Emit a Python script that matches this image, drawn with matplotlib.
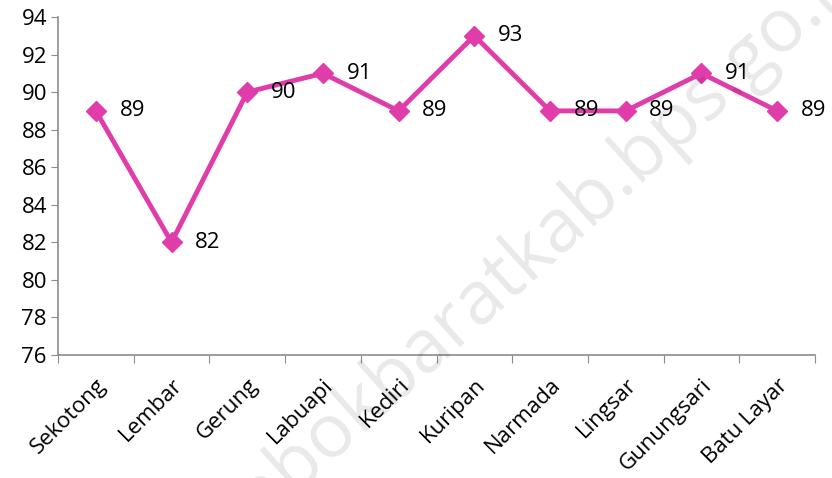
import matplotlib.pyplot as plt

kecamatan = ['Sekotong', 'Lembar', 'Gerung', 'Labuapi', 'Kediri', 'Kuripan',
             'Narmada', 'Lingsar', 'Gunungsari', 'Batu Layar']
nilai = [89, 82, 90, 91, 89, 93, 89, 89, 91, 89]
y_ticks = list(range(76, 95, 2))

plt.rcParams['font.family'] = ['Open Sans', 'DejaVu Sans']
warna = '#E03CAA'
abu = '#8C8C8C'

fig = plt.figure(figsize=(8.32, 4.78), dpi=100)
ax = fig.add_axes([58 / 832, 1 - 355 / 478, 757 / 832, 338 / 478])

x = list(range(len(kecamatan)))
ax.plot(x, nilai, color=warna, lw=3.5, marker='D', ms=10, zorder=3)
for xi, v in zip(x, nilai):
    ax.annotate(str(v), (xi, v), xytext=(17, 0), textcoords='offset points',
                va='center', ha='left', fontsize=16, color='black')

ax.set_xlim(-0.5, len(kecamatan) - 0.5)
ax.set_ylim(76, 94)
ax.set_yticks(y_ticks)
ax.tick_params(axis='y', labelsize=16, length=5, color=abu, pad=3)
ax.set_xticks([i - 0.5 for i in range(len(kecamatan) + 1)])
ax.set_xticklabels([])
ax.set_xticks(x, minor=True)
ax.set_xticklabels(kecamatan, minor=True, rotation=45, ha='right',
                   rotation_mode='anchor', fontsize=16)
ax.tick_params(axis='x', which='major', length=6, color=abu)
ax.tick_params(axis='x', which='minor', length=0, pad=14)

for s in ['top', 'right']:
    ax.spines[s].set_visible(False)
for s in ['left', 'bottom']:
    ax.spines[s].set_color(abu)
    ax.spines[s].set_linewidth(1.2)

# watermark
fig.text(0.625, 0.455, 'lombokbaratkab.bps.go.id', fontsize=54, color='black',
         alpha=0.09, rotation=42, ha='center', va='center', zorder=10)

fig.savefig('out.png', dpi=100)
